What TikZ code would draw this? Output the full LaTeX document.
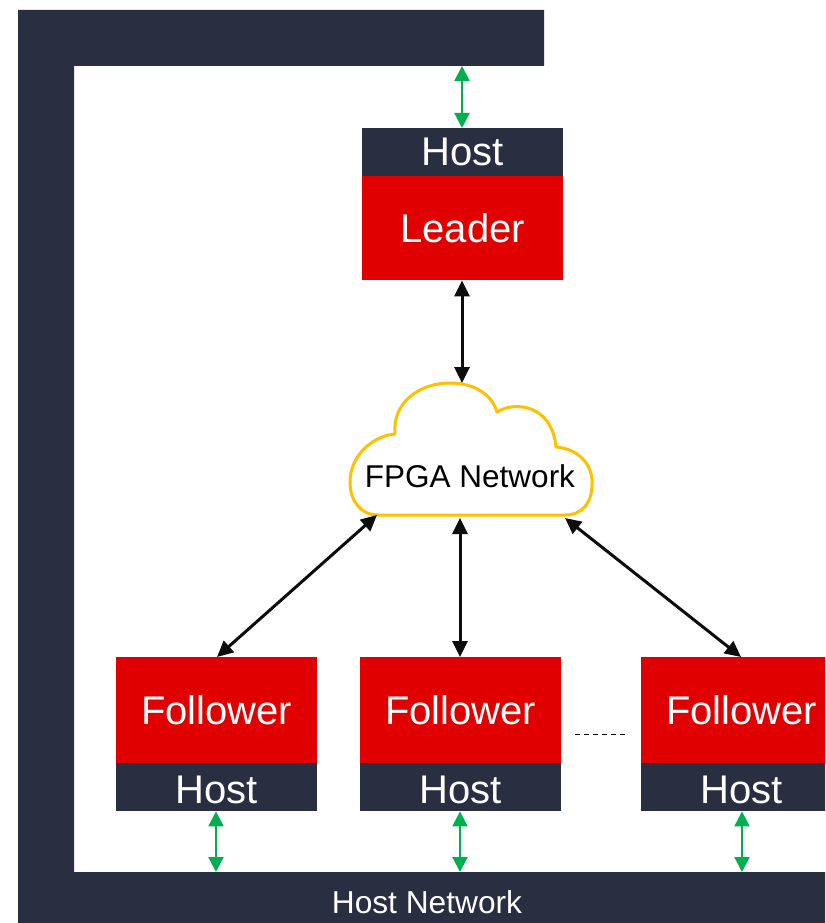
\documentclass[tikz,border=0pt]{standalone}
\usepackage{fontspec}
\setmainfont{Liberation Sans}
\usetikzlibrary{arrows.meta}
\definecolor{hostdark}{RGB}{41,46,64}
\definecolor{nodered}{RGB}{224,0,0}
\definecolor{linkgreen}{RGB}{0,176,80}
\definecolor{cloudgold}{RGB}{255,192,0}
\tikzset{
  hostbar/.style={fill=hostdark, draw=none, text=white, inner sep=0pt,
    minimum width=201pt, minimum height=48pt, font=\fontsize{40}{40}\selectfont},
  rolebox/.style={fill=nodered, draw=none, text=white, inner sep=0pt,
    minimum width=201pt, font=\fontsize{40}{40}\selectfont},
  hostlink/.style={draw=linkgreen, line width=2.2pt,
    {Triangle[width=15pt,length=15pt]}-{Triangle[width=15pt,length=15pt]}},
  fpgalink/.style={draw=black!95, line width=3pt,
    {Triangle[width=15pt,length=16pt]}-{Triangle[width=15pt,length=16pt]}},
}
\begin{document}
\begin{tikzpicture}[x=1pt,y=-1pt]
  \useasboundingbox (0,0) rectangle (825,923);
  \fill[white] (0,0) rectangle (825,923);

  % host network frame
  \fill[hostdark] (18,10) -- (544,10) -- (544,66) -- (74,66) -- (74,872)
    -- (825,872) -- (825,923) -- (18,923) -- cycle;
  \node[text=white, font=\fontsize{31.7}{31.7}\selectfont] (hostnet) at (427,902) {Host Network};
  \coordinate (topbar) at (462,66);

  % leader
  \node[hostbar, anchor=north west] (lhost) at (362,128) {Host};
  \node[rolebox, minimum height=104pt, anchor=north west] (leader) at (362,176) {Leader};

  % followers
  \begin{scope}
    \clip (0,0) rectangle (825,923);
    \foreach \i/\x in {1/116, 2/360, 3/641}{
      \node[rolebox, minimum height=106pt, anchor=north west] (f\i) at (\x,657) {Follower};
      \node[hostbar, anchor=north west, text height=33pt, text depth=0pt] (h\i) at (\x,763) {Host};
    }
  \end{scope}
  \draw[dashed, dash pattern=on 5pt off 4pt, line width=0.8pt] (575,734) -- (627,734);

  % FPGA network cloud
  \draw[cloudgold, line width=3pt, fill=white, line join=round]
    (378,515) .. controls (360,515) and (350,500) .. (350,482)
    .. controls (350,456) and (372,436) .. (395,434)
    .. controls (392,402) and (420,383) .. (450,383)
    .. controls (475,383) and (492,395) .. (497,412)
    .. controls (514,401) and (552,404) .. (556,447)
    .. controls (580,449) and (593,466) .. (592,484)
    .. controls (592,503) and (582,515) .. (565,515)
    -- cycle;
  \node[font=\fontsize{31.5}{31.5}\selectfont] (fpga) at (470,476) {FPGA Network};
  \coordinate (ctop) at (462,383);
  \coordinate (cleft) at (377,515);
  \coordinate (cmid) at (460,518);
  \coordinate (cright) at (565,518);

  % links
  \draw[hostlink] (topbar) -- (lhost.north -| topbar);
  \draw[fpgalink] (leader.south -| ctop) -- (ctop);
  \draw[fpgalink] (cleft) -- (217,657);
  \draw[fpgalink] (cmid) -- (f2.north -| cmid);
  \draw[fpgalink] (cright) -- (741,657);
  \foreach \i/\x in {1/216, 2/460, 3/742}{
    \coordinate (b\i) at (\x,872);
    \draw[hostlink] (h\i.south -| b\i) -- (b\i);
  }
\end{tikzpicture}
\end{document}
